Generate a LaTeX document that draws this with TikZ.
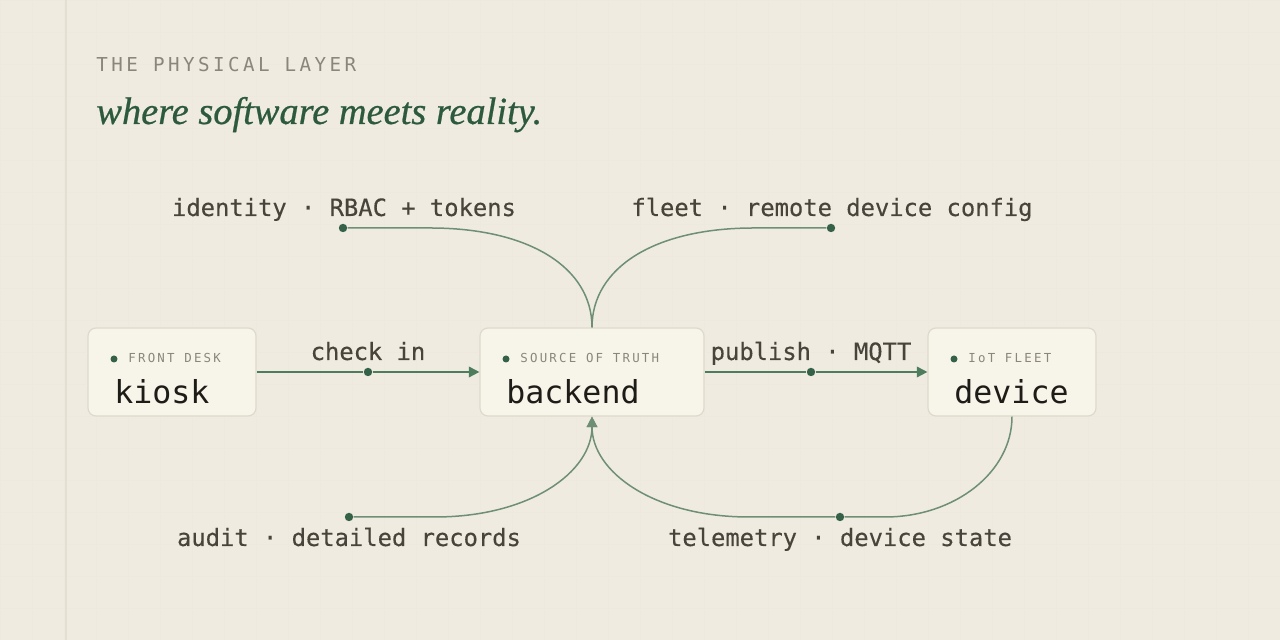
\documentclass[tikz,border=0pt]{standalone}
\usepackage{fontspec}
\usepackage{xcolor}
\usepackage{tikz}
\usetikzlibrary{arrows.meta,positioning}
\setmainfont{Liberation Serif}
\setmonofont{DejaVu Sans Mono}
\newfontfamily\capsmono[LetterSpace=18]{DejaVu Sans Mono}
\newfontfamily\tagmono[LetterSpace=18]{DejaVu Sans Mono}
\newfontfamily\lblmono[FakeBold=0.3]{DejaVu Sans Mono}
\newfontfamily\headserif[FakeBold=0.6]{Liberation Serif}
\definecolor{paper}{HTML}{EFEBE1}
\definecolor{cardbg}{HTML}{F7F4EA}
\definecolor{cardln}{HTML}{DEDACB}
\definecolor{rulec}{HTML}{E4DFD2}
\definecolor{wirec}{HTML}{4E7D5E}
\definecolor{curvc}{HTML}{6E8F74}
\definecolor{dotc}{HTML}{356148}
\definecolor{inkc}{HTML}{48443B}
\definecolor{namec}{HTML}{1E1C17}
\definecolor{capc}{HTML}{8A867A}
\definecolor{headc}{HTML}{2D5A3D}
\tikzset{
  card/.style={draw=cardln,line width=0.6pt,rounded corners=4pt,fill=cardbg,minimum height=44pt,inner sep=0pt},
  cardtag/.style={anchor=base west,inner sep=0pt,text=capc,font=\tagmono\fontsize{6.2}{7}\selectfont},
  cardname/.style={anchor=base west,inner sep=0pt,text=namec,font=\ttfamily\fontsize{15.8}{18}\selectfont},
  tagdot/.style={circle,fill=dotc,minimum size=3.5pt,inner sep=0pt},
  flowdot/.style={circle,fill=dotc,minimum size=4.2pt,inner sep=0pt},
  lbl/.style={text=inkc,inner sep=0pt,font=\lblmono\fontsize{11.9}{14}\selectfont},
  wire/.style={wirec,line width=0.95pt},
  curv/.style={curvc,line width=0.75pt},
  arrowtip/.style={-{Triangle[length=5.3pt,width=5.3pt]}}
}
\begin{document}
\begin{tikzpicture}[x=0.5pt,y=0.5pt]
\fill[paper] (0,0) rectangle (1280,640);
\useasboundingbox (0,0) rectangle (1280,640);
\draw[rulec!18!paper,line width=0.3pt,step=32] (0,0) grid (1280,640);
\draw[rulec,line width=1pt] (66,0) -- (66,640);
% heading
\node[anchor=base west,inner sep=0pt,text=capc,font=\capsmono\fontsize{9.6}{11}\selectfont] (kicker) at (96,640-72) {THE PHYSICAL LAYER};
\node[anchor=base west,inner sep=0pt,text=headc,font=\headserif\itshape\fontsize{19.2}{24}\selectfont] (headline) at (96,640-124) {where software meets reality.};
% cards
\node[card,minimum width=84pt] (kiosk) at (172,268) {};
\node[card,minimum width=112pt] (backend) at (592,268) {};
\node[card,minimum width=84pt] (device) at (1012,268) {};
\node[tagdot] (kioskdot) at (114,281) {};
\node[cardtag] (kiosktag) at (128,277) {FRONT DESK};
\node[cardname] (kioskname) at (114,236) {kiosk};
\node[tagdot] (backenddot) at (506,281) {};
\node[cardtag] (backendtag) at (520,277) {SOURCE OF TRUTH};
\node[cardname] (backendname) at (506,236) {backend};
\node[tagdot] (devicedot) at (954,281) {};
\node[cardtag] (devicetag) at (968,277) {IoT FLEET};
\node[cardname] (devicename) at (954,236) {device};
% straight flows
\node[flowdot] (checkin) at (368,268) {};
\node[lbl,anchor=base] (checkinlbl) at (368,280) {check in};
\draw[wire] (kiosk) -- (checkin);
\draw[wire,arrowtip] (checkin) -- (backend);
\node[flowdot] (publish) at (811,268) {};
\node[lbl,anchor=base] (publishlbl) at (811,280) {publish · MQTT};
\draw[wire] (backend) -- (publish);
\draw[wire,arrowtip] (publish) -- (device);
% upper branches
\node[flowdot] (identity) at (343,412) {};
\node[lbl,anchor=base] (identitylbl) at (344,424) {identity · RBAC + tokens};
\node[flowdot] (fleet) at (831,412) {};
\node[lbl,anchor=base] (fleetlbl) at (832,424) {fleet · remote device config};
\draw[curv] (backend.north) .. controls (592,372) and (530,412) .. (430,412) -- (identity);
\draw[curv] (backend.north) .. controls (592,372) and (654,412) .. (754,412) -- (fleet);
% lower branches
\node[flowdot] (audit) at (349,123) {};
\node[lbl,anchor=base] (auditlbl) at (349,94) {audit · detailed records};
\node[flowdot] (telemetry) at (840,123) {};
\node[lbl,anchor=base] (telemetrylbl) at (840,94) {telemetry · device state};
\draw[curv,arrowtip] (audit) -- (435,123) .. controls (530,123) and (592,168) .. (backend.south);
\draw[curv] (device.south) .. controls (1012,168) and (955,123) .. (885,123) -- (telemetry);
\draw[curv,arrowtip] (telemetry) -- (749,123) .. controls (654,123) and (592,168) .. (backend.south);
\end{tikzpicture}
\end{document}
